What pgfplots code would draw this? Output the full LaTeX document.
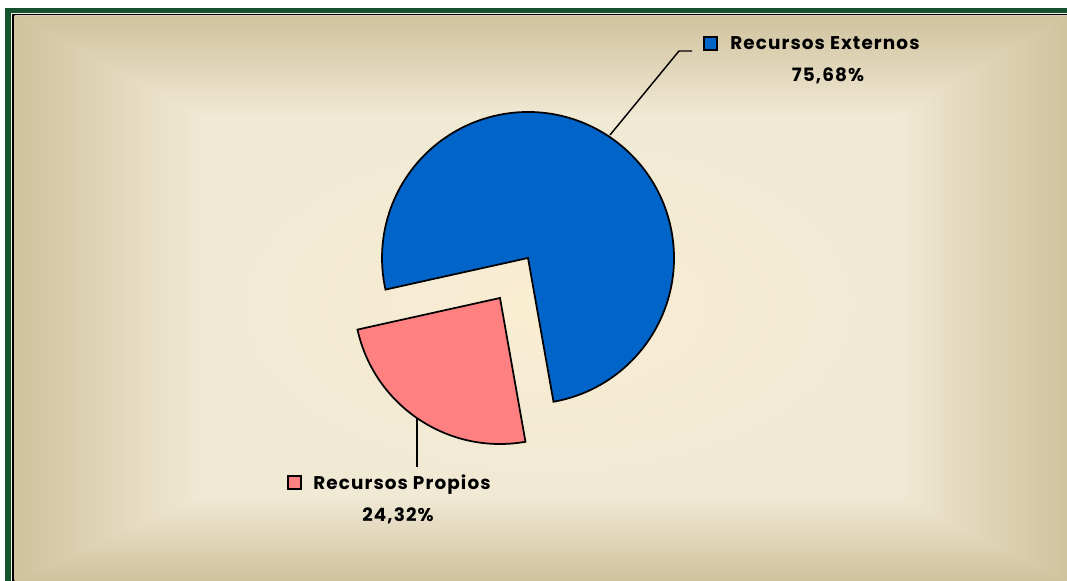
\documentclass[border=0pt]{standalone}
\usepackage{fontspec}
\setmainfont{Poppins}
\usepackage{pgfplots}
\usepackage{pgfplotstable}
\pgfplotsset{compat=1.18}

\pgfplotstableread{
label value
Externos 75.68
Propios 24.32
}\piedata

\definecolor{framegreen}{HTML}{14532D}
\definecolor{bgdark}{HTML}{D0C29E}
\definecolor{bglight}{HTML}{F0E9D4}
\definecolor{bgcenter}{HTML}{FAEDD2}
\definecolor{blueslice}{HTML}{0064C8}
\definecolor{pinkslice}{HTML}{FF8080}
\newcommand{\lblfont}{\fontsize{13.8}{16}\selectfont\bfseries\addfontfeature{LetterSpace=6}}

\begin{document}
\begin{tikzpicture}
\pgfplotstablegetelem{0}{value}\of\piedata \let\vExt\pgfplotsretval
\pgfplotstablegetelem{1}{value}\of\piedata \let\vProp\pgfplotsretval
\pgfmathsetmacro{\aStart}{192.5}
\pgfmathsetmacro{\aMid}{\aStart+3.6*\vProp}
\pgfmathsetmacro{\aEnd}{\aMid+3.6*\vExt}
\begin{axis}[x=0.75pt,y=0.75pt,xmin=0,xmax=1067,ymin=0,ymax=581,
  hide axis, clip=true]
\addplot[draw=none] coordinates {(0,0)};
% frame
\fill[white] (axis cs:0,0) rectangle (axis cs:1067,581);
\fill[framegreen] (axis cs:5,0) rectangle (axis cs:1067,573);
\fill[bglight!70!white] (axis cs:11,0) rectangle (axis cs:1067,568);
\fill[black] (axis cs:12,0) rectangle (axis cs:1067,567);
% background
\fill[bglight] (axis cs:14.5,0) rectangle (axis cs:1067,565.5);
\shade[inner color=bgcenter, outer color=bglight] (axis cs:200,85) rectangle (axis cs:897,465);
\shade[left color=bgdark, right color=bglight] (axis cs:14.5,0) -- (axis cs:14.5,565.5) -- (axis cs:200.5,465) -- (axis cs:200.5,85) -- cycle;
\shade[top color=bgdark, bottom color=bglight] (axis cs:14.5,565.5) -- (axis cs:1067,565.5) -- (axis cs:897,464.5) -- (axis cs:200,464.5) -- cycle;
\shade[left color=bglight, right color=bgdark] (axis cs:1067,565.5) -- (axis cs:1067,0) -- (axis cs:896.5,85) -- (axis cs:896.5,465) -- cycle;
\shade[bottom color=bgdark, top color=bglight] (axis cs:14.5,0) -- (axis cs:1067,0) -- (axis cs:897,85.5) -- (axis cs:200,85.5) -- cycle;
% slices
\filldraw[fill=pinkslice, draw=black, line width=1.3pt, line join=miter]
  (axis cs:500,283) -- ++(\aStart:109.5pt) arc[start angle=\aStart, end angle=\aMid, radius=109.5pt] -- cycle;
\filldraw[fill=blueslice, draw=black, line width=1.3pt, line join=miter]
  (axis cs:528,323) -- ++(\aMid:109.5pt) arc[start angle=\aMid, end angle=\aEnd, radius=109.5pt] -- cycle;
% leader lines
\draw[black, line width=1.1pt] (axis cs:610,446) -- (axis cs:679,530) -- (axis cs:692,530);
\draw[black, line width=1.1pt] (axis cs:417,163) -- (axis cs:417,114);
% labels
\filldraw[fill=blueslice, draw=black, line width=1.3pt] (axis cs:704,531) rectangle (axis cs:717,544);
\node[anchor=base west, inner sep=0pt, font=\lblfont] at (axis cs:730,531.5) {Recursos Externos};
\node[anchor=base, inner sep=0pt, font=\lblfont] at (axis cs:828,499.5) {75,68\%};
\filldraw[fill=pinkslice, draw=black, line width=1.3pt] (axis cs:288,92) rectangle (axis cs:301,105);
\node[anchor=base west, inner sep=0pt, font=\lblfont] at (axis cs:313,91.7) {Recursos Propios};
\node[anchor=base, inner sep=0pt, font=\lblfont] at (axis cs:398,59.3) {24,32\%};
\end{axis}
\end{tikzpicture}
\end{document}
